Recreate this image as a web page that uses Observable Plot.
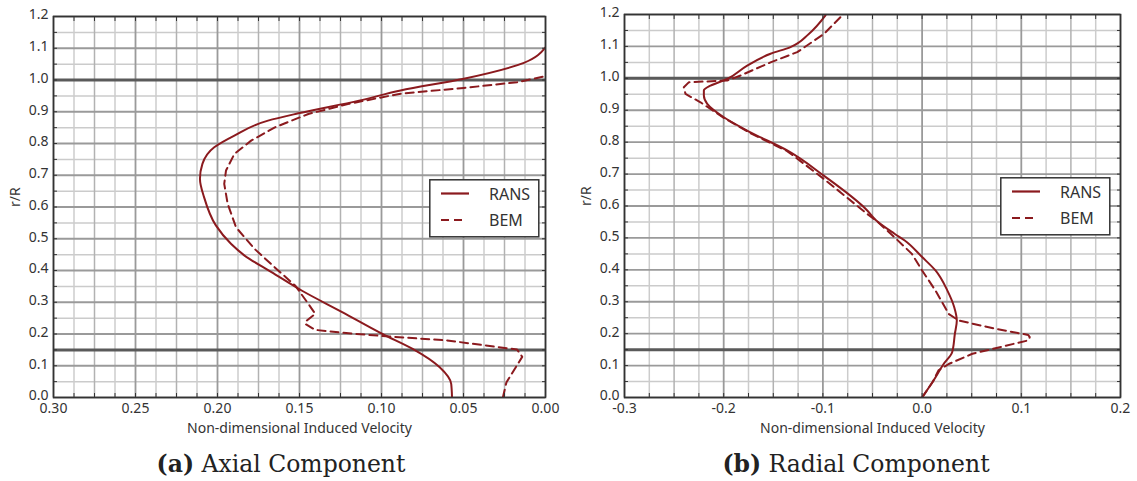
<!DOCTYPE html>
<html>
<head>
<meta charset="utf-8">
<script src="https://cdn.jsdelivr.net/npm/d3@7"></script>
<script src="https://cdn.jsdelivr.net/npm/@observablehq/plot@0.6"></script>
<style>
  html, body { margin: 0; padding: 0; background: #fff; }
  #wrap { position: relative; width: 1137px; height: 481px; overflow: hidden; background: #fff; }
  .panel { position: absolute; top: 0; }
  .legend { position: absolute; }
  .caps { position: absolute; left: 0; top: 440px; }
</style>
</head>
<body>
<div id="wrap"></div>
<script>
// ---------------- DATA ----------------
const seriesNames = ["RANS", "BEM"];
const yTicks = [0.0, 0.1, 0.2, 0.3, 0.4, 0.5, 0.6, 0.7, 0.8, 0.9, 1.0, 1.1, 1.2];
const xTicksAxial = [0.30, 0.25, 0.20, 0.15, 0.10, 0.05, 0.00];
const xTicksRadial = [-0.3, -0.2, -0.1, 0.0, 0.1, 0.2];
const refLines = [1.0, 0.15];

// (a) Axial component
const axialRansR = [0.000, 0.043, 0.095, 0.153, 0.200, 0.269, 0.337, 0.395, 0.447, 0.484, 0.542, 0.631, 0.689, 0.736, 0.788, 0.825, 0.872, 0.895, 0.935, 0.967, 1.004, 1.054, 1.103];
const axialRansV = [0.057, 0.0575, 0.0645, 0.081, 0.0994, 0.124, 0.1487, 0.1671, 0.1835, 0.1918, 0.201, 0.2082, 0.2107, 0.2092, 0.202, 0.1897, 0.1692, 0.1507, 0.1137, 0.0884, 0.0498, 0.0132, 0.000];
const axialBemR = [0.000, 0.048, 0.128, 0.151, 0.180, 0.192, 0.204, 0.213, 0.232, 0.2425, 0.2635, 0.295, 0.353, 0.400, 0.468, 0.536, 0.610, 0.673, 0.715, 0.767, 0.809, 0.851, 0.893, 0.925, 0.957, 0.975, 0.993, 1.012];
const axialBemV = [0.026, 0.0238, 0.0142, 0.0173, 0.0604, 0.0952, 0.124, 0.1404, 0.1466, 0.1455, 0.1404, 0.1446, 0.1527, 0.163, 0.1774, 0.1887, 0.1938, 0.1959, 0.1948, 0.1897, 0.1795, 0.165, 0.1446, 0.1199, 0.0884, 0.0498, 0.0173, 0.000];

// (b) Radial component
const radialRansR = [0.000, 0.053, 0.105, 0.142, 0.199, 0.241, 0.283, 0.335, 0.398, 0.440, 0.492, 0.513, 0.555, 0.586, 0.695, 0.774, 0.831, 0.878, 0.920, 0.946, 0.962, 0.977, 0.998, 1.040, 1.077, 1.098, 1.139, 1.197];
const radialRansV = [0.000, 0.0115, 0.0217, 0.0303, 0.033, 0.035, 0.0324, 0.0255, 0.0135, 0.000, -0.0175, -0.0278, -0.0465, -0.0553, -0.0991, -0.136, -0.173, -0.1999, -0.2166, -0.220, -0.220, -0.2133, -0.1965, -0.1763, -0.1528, -0.1327, -0.1142, -0.0974];
const radialBemR = [0.000, 0.050, 0.085, 0.105, 0.137, 0.179, 0.189, 0.196, 0.215, 0.241, 0.262, 0.335, 0.398, 0.450, 0.502, 0.555, 0.575, 0.685, 0.772, 0.828, 0.876, 0.925, 0.951, 0.972, 0.988, 0.993, 1.009, 1.050, 1.082, 1.139, 1.197];
const radialBemV = [0.000, 0.011, 0.0165, 0.0268, 0.0507, 0.107, 0.1085, 0.107, 0.0745, 0.037, 0.0268, 0.0135, 0.000, -0.0103, -0.0278, -0.0465, -0.0553, -0.0991, -0.136, -0.173, -0.1999, -0.2234, -0.2385, -0.2402, -0.235, -0.1965, -0.183, -0.1528, -0.1259, -0.099, -0.0806];

const xLabel = "Non-dimensional Induced Velocity";
const yLabel = "r/R";
const captions = [["(a)", "Axial Component"], ["(b)", "Radial Component"]];

// ---------------- STYLE ----------------
const RED = "#8b1a1e";
const FONT = "'Noto Sans', 'Open Sans', sans-serif";

const toRows = (rs, vs) => rs.map((r, i) => ({r, v: vs[i]}));

function gridLevels(n, start, step) {
  return d3.range(n).map(i => ({val: start + i * step, lvl: i % 4 === 0 ? 0 : (i % 2 === 0 ? 1 : 2)}));
}

function panel({xDomain, xTicks, xFmt, xGrid, rans, bem, width, mL, mR, mT, mB}) {
  const yGrid = d3.range(25).map(i => ({val: i * 0.05, major: i % 2 === 0}));
  const gCol = ["#9a9a9a", "#b2b2b2", "#cccccc"];
  return Plot.plot({
    width, height: 440,
    marginLeft: mL, marginRight: mR, marginTop: mT, marginBottom: mB,
    x: {domain: xDomain},
    y: {domain: [0, 1.2]},
    style: {fontFamily: FONT, fontSize: "14px", color: "#333", background: "transparent", overflow: "visible"},
    marks: [
      Plot.ruleY(yGrid.filter(d => !d.major), {y: "val", stroke: "#cbcbcb", strokeWidth: 1.5}),
      Plot.ruleX(xGrid.filter(d => d.lvl === 2), {x: "val", stroke: gCol[2], strokeWidth: 1.5}),
      Plot.ruleX(xGrid.filter(d => d.lvl === 1), {x: "val", stroke: gCol[1], strokeWidth: 1.5}),
      Plot.ruleY(yGrid.filter(d => d.major), {y: "val", stroke: "#9a9a9a", strokeWidth: 1.8}),
      Plot.ruleX(xGrid.filter(d => d.lvl === 0), {x: "val", stroke: gCol[0], strokeWidth: 1.8}),
      Plot.ruleY(refLines, {stroke: "#5a5a5a", strokeWidth: 3}),
      Plot.line(bem, {x: "v", y: "r", stroke: RED, strokeWidth: 2, strokeDasharray: "8,5", clip: true}),
      Plot.line(rans, {x: "v", y: "r", stroke: RED, strokeWidth: 2, curve: "monotone-y", clip: true}),
      Plot.frame({stroke: "#333", strokeWidth: 1.6}),
      Plot.axisX({anchor: "bottom", ticks: xTicks, tickSize: 0, tickPadding: 6, tickFormat: xFmt, label: null, fill: "#333"}),
      Plot.axisY({anchor: "left", ticks: yTicks, tickSize: 0, tickPadding: 5, dy: -1.5, tickFormat: d => d.toFixed(1), label: null, fill: "#333"}),
      Plot.axisX({anchor: "bottom", ticks: xGrid.map(d => d.val), tickSize: -4, text: null, label: null, stroke: "#333"}),
      Plot.axisX({anchor: "top", ticks: xGrid.map(d => d.val), tickSize: -4, text: null, label: null, stroke: "#333"}),
      Plot.axisY({anchor: "left", ticks: yGrid.map(d => d.val), tickSize: -4, text: null, label: null, stroke: "#333"}),
      Plot.axisY({anchor: "right", ticks: yGrid.map(d => d.val), tickSize: -4, text: null, label: null, stroke: "#333"}),
      Plot.text([xLabel], {text: d => d, frameAnchor: "bottom", dy: 26, lineAnchor: "top", fontSize: 14, fill: "#333"}),
      Plot.text([yLabel], {text: d => d, frameAnchor: "left", dx: -38, rotate: -90, fontSize: 14, fill: "#333"})
    ]
  });
}

const wrap = document.getElementById("wrap");

const left = panel({
  xDomain: [0.3, 0], xTicks: xTicksAxial, xFmt: d => d.toFixed(2),
  xGrid: gridLevels(25, 0, 0.0125),
  rans: toRows(axialRansR, axialRansV), bem: toRows(axialBemR, axialBemV),
  width: 560, mL: 53, mR: 15, mT: 16, mB: 43
});
left.classList.add("panel"); left.style.left = "0px";
wrap.appendChild(left);

const right = panel({
  xDomain: [-0.3, 0.2], xTicks: xTicksRadial, xFmt: d => d.toFixed(1),
  xGrid: gridLevels(21, -0.3, 0.025),
  rans: toRows(radialRansR, radialRansV), bem: toRows(radialBemR, radialBemV),
  width: 567, mL: 54, mR: 17, mT: 14, mB: 43
});
right.classList.add("panel"); right.style.left = "570px";
wrap.appendChild(right);

// legends
function legend(x, y) {
  const svg = d3.create("svg").attr("width", 111).attr("height", 59)
    .attr("class", "legend").style("left", x + "px").style("top", y + "px");
  svg.append("rect").attr("x", 0.8).attr("y", 0.8).attr("width", 109).attr("height", 57)
    .attr("fill", "#fff").attr("stroke", "#333").attr("stroke-width", 1.5);
  svg.append("line").attr("x1", 12).attr("x2", 40).attr("y1", 14.5).attr("y2", 14.5)
    .attr("stroke", RED).attr("stroke-width", 2.2);
  svg.append("line").attr("x1", 12).attr("x2", 33).attr("y1", 41).attr("y2", 41)
    .attr("stroke", RED).attr("stroke-width", 2.2).attr("stroke-dasharray", "8,5");
  svg.append("text").attr("x", 60).attr("y", 20.5).text(seriesNames[0])
    .attr("font-family", FONT).attr("font-size", 16).attr("fill", "#333");
  svg.append("text").attr("x", 60).attr("y", 47).text(seriesNames[1])
    .attr("font-family", FONT).attr("font-size", 16).attr("fill", "#333");
  wrap.appendChild(svg.node());
}
legend(429, 179);
legend(1000, 177);

// captions
const caps = d3.create("svg").attr("width", 1137).attr("height", 41).attr("class", "caps");
[[281, captions[0]], [856, captions[1]]].forEach(([cx, c]) => {
  const t = caps.append("text").attr("x", cx).attr("y", 32).attr("text-anchor", "middle")
    .attr("font-family", "'DejaVu Serif', 'Liberation Serif', serif").attr("font-size", 23.5).attr("fill", "#222");
  t.append("tspan").attr("font-weight", "bold").text(c[0]);
  t.append("tspan").text(" " + c[1]);
});
wrap.appendChild(caps.node());
</script>
</body>
</html>
